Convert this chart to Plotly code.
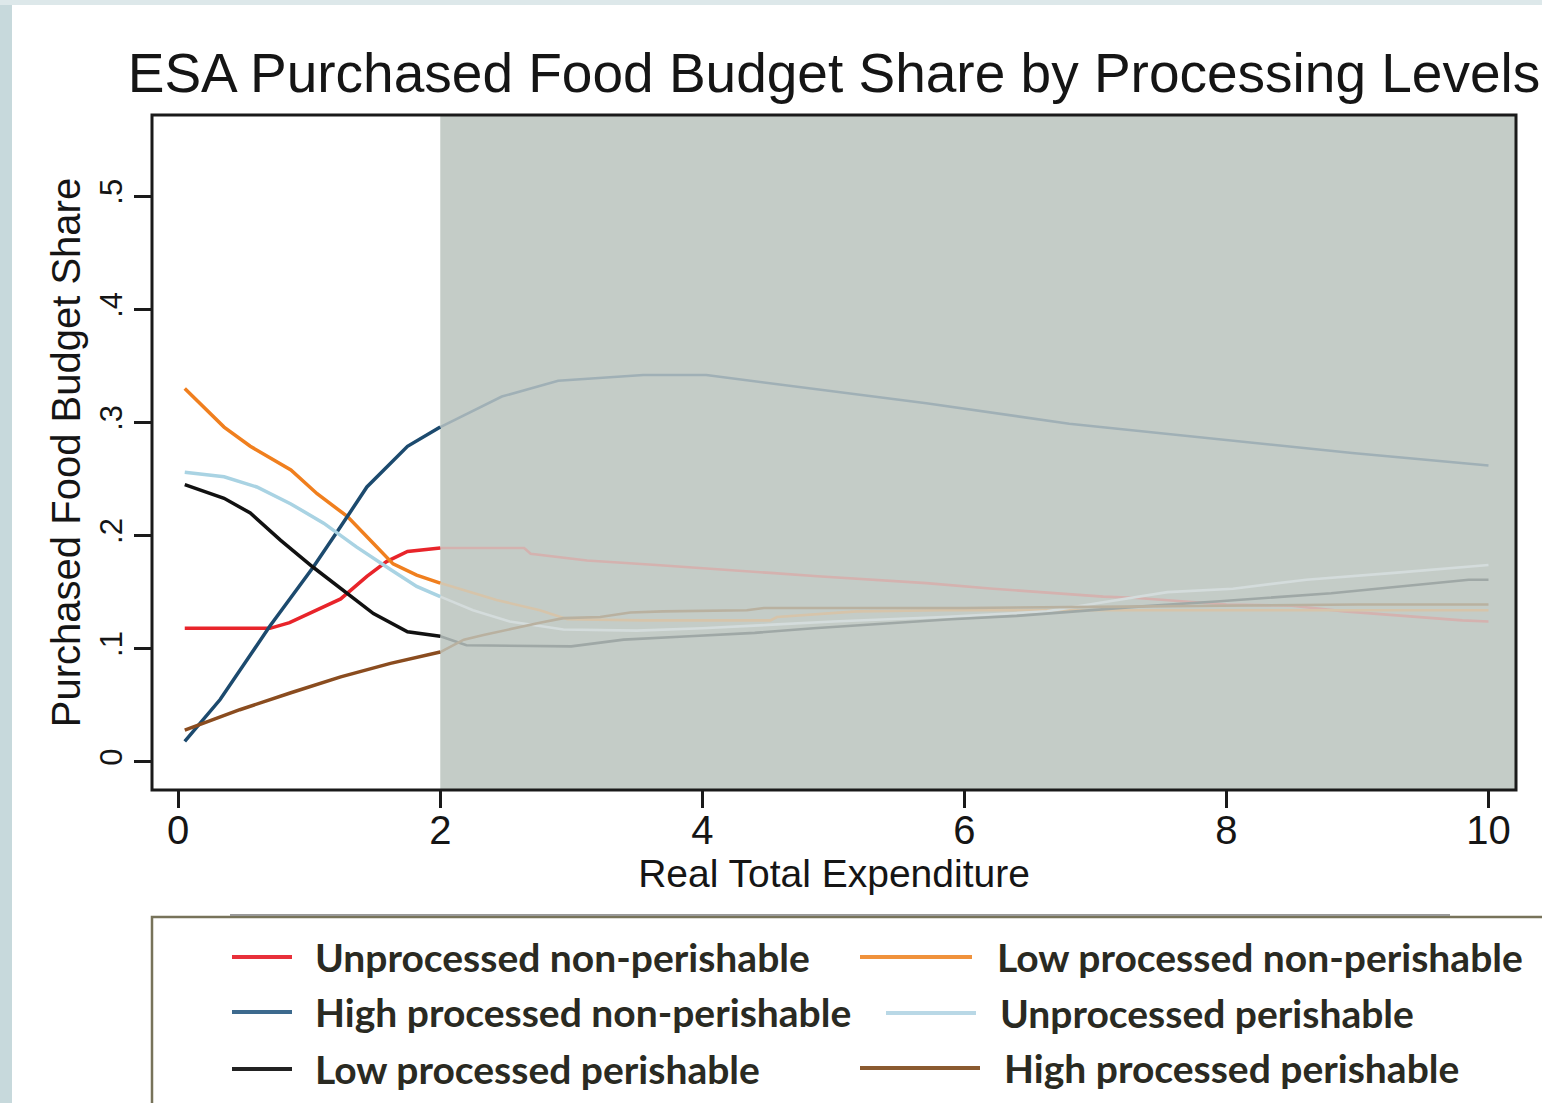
import plotly.graph_objects as go

# ---------------- data ----------------
series_names = [
    "Unprocessed non-perishable",
    "Low processed non-perishable",
    "High processed non-perishable",
    "Unprocessed perishable",
    "Low processed perishable",
    "High processed perishable",
]
series_colors = ["#e8242a", "#f07f1e", "#1c4a6e", "#a9d3e3", "#111111", "#8a4c1f"]
faded_colors = ["#d4b2af", "#d6c4aa", "#a0b0b6", "#d4dcdc", "#9fa8a6", "#b9b1a0"]
legend_colors = ["#e8303a", "#f0923c", "#3d6a8e", "#b9d8e6", "#222222", "#8a5a30"]

x_unproc_nonper = [0.05, 0.3, 0.7, 0.85, 1.06, 1.24, 1.44, 1.59, 1.75, 2.0, 2.64, 2.69, 2.89,
                   3.12, 3.65, 4.19, 4.52, 4.88, 5.28, 5.71, 6.22, 6.66, 7.06, 7.29, 7.62, 8.0,
                   8.5, 8.9, 9.35, 9.8, 10.0]
y_unproc_nonper = [0.118, 0.118, 0.118, 0.123, 0.134, 0.144, 0.164, 0.177, 0.186, 0.189, 0.189,
                   0.184, 0.181, 0.178, 0.174, 0.170, 0.167, 0.164, 0.161, 0.158, 0.153, 0.149,
                   0.146, 0.145, 0.142, 0.139, 0.138, 0.133, 0.129, 0.125, 0.124]

x_low_nonper = [0.05, 0.35, 0.55, 0.86, 1.06, 1.29, 1.49, 1.64, 1.82, 2.0, 2.43, 2.76, 2.97,
                3.55, 4.52, 4.57, 5.18, 5.82, 7.27, 8.5, 10.0]
y_low_nonper = [0.330, 0.296, 0.279, 0.258, 0.237, 0.217, 0.193, 0.175, 0.165, 0.158, 0.143,
                0.134, 0.126, 0.125, 0.125, 0.128, 0.133, 0.134, 0.134, 0.134, 0.134]

x_high_nonper = [0.05, 0.32, 0.70, 1.03, 1.24, 1.44, 1.75, 2.0, 2.47, 2.90, 3.55, 4.03, 4.63,
                 5.71, 6.80, 7.88, 8.96, 10.0]
y_high_nonper = [0.018, 0.055, 0.120, 0.172, 0.208, 0.243, 0.279, 0.296, 0.323, 0.337, 0.342,
                 0.342, 0.333, 0.317, 0.299, 0.286, 0.273, 0.262]

x_unproc_per = [0.05, 0.35, 0.6, 0.86, 1.11, 1.36, 1.62, 1.82, 2.0, 2.25, 2.53, 2.94, 3.5, 4.0,
                4.5, 5.0, 5.84, 6.17, 6.63, 7.0, 7.55, 8.05, 8.61, 9.28, 9.66, 10.0]
y_unproc_per = [0.256, 0.252, 0.243, 0.228, 0.211, 0.190, 0.170, 0.155, 0.146, 0.134, 0.124,
                0.117, 0.116, 0.118, 0.121, 0.124, 0.128, 0.130, 0.133, 0.140, 0.150, 0.153,
                0.161, 0.167, 0.171, 0.174]

x_low_per = [0.05, 0.35, 0.55, 0.78, 1.03, 1.29, 1.49, 1.75, 2.0, 2.2, 3.0, 3.4, 3.9, 4.4, 4.85,
             5.35, 5.9, 6.4, 6.85, 7.3, 7.95, 8.4, 8.8, 9.15, 9.5, 9.85, 10.0]
y_low_per = [0.245, 0.233, 0.220, 0.196, 0.172, 0.149, 0.131, 0.115, 0.111, 0.103, 0.102, 0.108,
             0.111, 0.114, 0.118, 0.122, 0.126, 0.129, 0.133, 0.137, 0.142, 0.146, 0.149, 0.153,
             0.157, 0.161, 0.161]

x_high_per = [0.05, 0.47, 0.86, 1.24, 1.62, 2.0, 2.18, 2.33, 2.56, 2.76, 2.94, 3.22, 3.45, 3.70,
              4.34, 4.47, 5.13, 6.0, 7.0, 8.0, 9.0, 10.0]
y_high_per = [0.028, 0.046, 0.061, 0.075, 0.087, 0.097, 0.108, 0.112, 0.118, 0.123, 0.127, 0.128,
              0.132, 0.133, 0.134, 0.136, 0.136, 0.136, 0.137, 0.138, 0.139, 0.139]

x_ticks = [0, 2, 4, 6, 8, 10]
x_tick_labels = ["0", "2", "4", "6", "8", "10"]
y_ticks = [0, 0.1, 0.2, 0.3, 0.4, 0.5]
y_tick_labels = ["0", ".1", ".2", ".3", ".4", ".5"]
shade_start = 2

xs_all = [x_unproc_nonper, x_low_nonper, x_high_nonper, x_unproc_per, x_low_per, x_high_per]
ys_all = [y_unproc_nonper, y_low_nonper, y_high_nonper, y_unproc_per, y_low_per, y_high_per]

# ---------------- layout geometry ----------------
W, H = 1542, 1103
L, R, T, B = 152, 26, 115, 313
PW, PH = W - L - R, H - T - B


def px(X):
    return (X - L) / PW


def py(Y):
    return (H - B - Y) / PH


x_range = [-0.2, 10.21]
y_range = [-0.025, 0.572]
shade_color = "rgb(196,204,199)"

fig = go.Figure()
for name, xs, ys, col, fcol in zip(series_names, xs_all, ys_all, series_colors, faded_colors):
    xa = [x for x in xs if x <= shade_start]
    ya = [y for x, y in zip(xs, ys) if x <= shade_start]
    xb = [x for x in xs if x >= shade_start]
    yb = [y for x, y in zip(xs, ys) if x >= shade_start]
    fig.add_trace(go.Scatter(x=xb, y=yb, mode="lines", name=name + " (shaded)",
                             line=dict(color=fcol, width=2.6), showlegend=False))
    fig.add_trace(go.Scatter(x=xa, y=ya, mode="lines", name=name,
                             line=dict(color=col, width=3.5), showlegend=False))

shapes = []
# grey region beyond x = 2
shapes.append(dict(type="rect", xref="x", yref="paper", x0=shade_start, x1=x_range[1],
                   y0=0, y1=1, fillcolor=shade_color, line=dict(width=0), layer="below"))
# plot frame
shapes.append(dict(type="rect", xref="paper", yref="paper", x0=0, x1=1, y0=0, y1=1,
                   line=dict(color="#1a1a1a", width=3), layer="above"))
# page background strips
shapes.append(dict(type="rect", xref="paper", yref="paper", x0=px(-5), x1=px(12),
                   y0=py(H + 5), y1=py(-5), fillcolor="#c7d9dc", line=dict(width=0),
                   layer="below"))
shapes.append(dict(type="rect", xref="paper", yref="paper", x0=px(-5), x1=px(W + 5),
                   y0=py(5), y1=py(-5), fillcolor="#dde8ea", line=dict(width=0),
                   layer="below"))
# legend box
shapes.append(dict(type="rect", xref="paper", yref="paper", x0=px(152), x1=px(W + 30),
                   y0=py(H + 30), y1=py(917), fillcolor="white",
                   line=dict(color="#77735a", width=2.5), layer="below"))
shapes.append(dict(type="line", xref="paper", yref="paper", x0=px(230), x1=px(1450),
                   y0=py(915), y1=py(915), line=dict(color="#9a9a9a", width=2),
                   layer="below"))

annotations = []
# legend entry geometry (pixels): sample line start/end, text start, row centre
legend_geom = [
    (232, 292, 313, 957), (860, 972, 995, 957),
    (232, 292, 313, 1012), (886, 976, 998, 1013),
    (232, 292, 313, 1069), (860, 980, 1002, 1068),
]
for (x0, x1, xt, yc), name, col in zip(legend_geom, series_names, legend_colors):
    shapes.append(dict(type="line", xref="paper", yref="paper",
                       x0=px(x0), x1=px(x1), y0=py(yc), y1=py(yc),
                       line=dict(color=col, width=4)))
    annotations.append(dict(text=name, xref="paper", yref="paper",
                            x=px(xt), y=py(yc), xanchor="left",
                            yanchor="middle", showarrow=False,
                            font=dict(family="Lato", size=39, color="#2a2a22",
                                      weight="bold")))

fig.update_layout(
    width=W, height=H,
    margin=dict(l=L, r=R, t=T, b=B, autoexpand=False),
    paper_bgcolor="white", plot_bgcolor="white",
    title=dict(text="ESA Purchased Food Budget Share by Processing Levels",
               x=0.5, xref="paper", xanchor="center", y=1 - 73 / H, yanchor="middle",
               font=dict(family="Liberation Sans", size=55, color="#151515")),
    shapes=shapes, annotations=annotations, showlegend=False,
    font=dict(family="Liberation Sans", color="#151515"),
)
fig.update_xaxes(range=x_range, tickvals=x_ticks, ticktext=x_tick_labels,
                 ticks="outside", ticklen=17, tickwidth=3, tickcolor="#1a1a1a",
                 showgrid=False, zeroline=False, showline=False, ticklabelstandoff=-12,
                 tickfont=dict(size=40, family="Liberation Sans", color="#151515"),
                 title=dict(text="Real Total Expenditure", standoff=6,
                            font=dict(size=39, family="Liberation Sans", color="#151515")))
fig.update_yaxes(range=y_range, tickvals=y_ticks, ticktext=y_tick_labels,
                 ticks="outside", ticklen=17, tickwidth=3, tickcolor="#1a1a1a",
                 tickangle=-90, showgrid=False, zeroline=False, showline=False,
                 tickfont=dict(size=31, family="Liberation Sans", color="#151515"),
                 title=dict(text="Purchased Food Budget Share", standoff=0,
                            font=dict(size=40, family="Liberation Sans", color="#151515")))

fig.write_html("out.html", config={"displayModeBar": False},
               post_script="document.body.style.margin='0';")
